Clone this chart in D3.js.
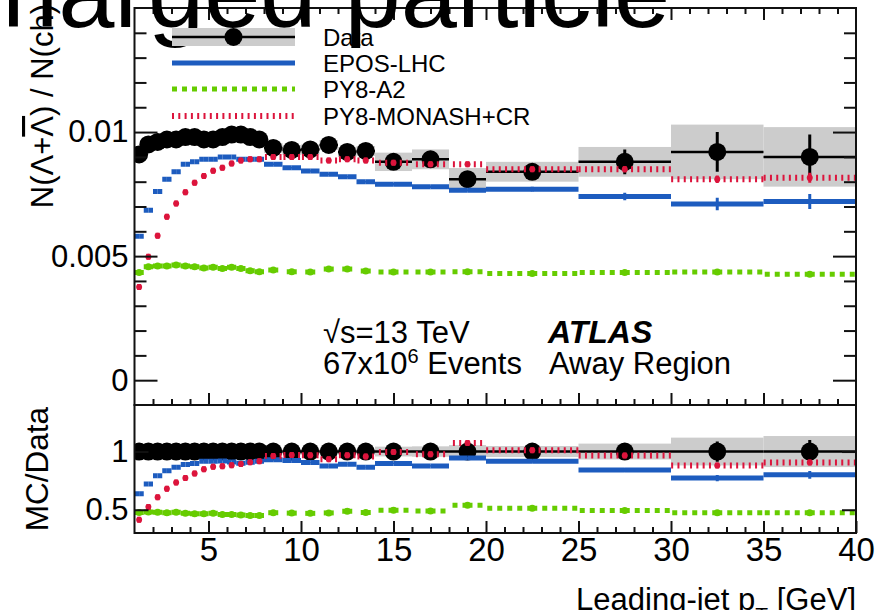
<!DOCTYPE html>
<html>
<head>
<meta charset="utf-8">
<script src="https://cdn.jsdelivr.net/npm/d3@7"></script>
<style>
  html, body { margin: 0; padding: 0; background: #fff; overflow: hidden; }
  svg { display: block; font-family: 'Liberation Sans', Arial, Helvetica, sans-serif; }
</style>
</head>
<body>
<div id="chart"></div>
<script>
// bin edges in leading-jet pT [GeV]
const binEdges = [1, 1.5, 2, 2.5, 3, 3.5, 4, 4.5, 5, 5.5, 6, 6.5, 7, 7.5, 8,
    9, 10, 11, 12, 13, 14, 16, 18, 20, 25, 30, 35, 40];

// data: N(Lambda+antiLambda)/N(ch)
const dataVal = [0.0091, 0.0095, 0.0096, 0.0097, 0.0097, 0.0098, 0.0098, 0.0097, 0.0097, 0.0098, 0.0099, 0.0099, 0.0098, 0.0097,
    0.00936, 0.00928, 0.0093, 0.00948, 0.0092, 0.00924,
    0.0088, 0.0089, 0.0081,
    0.0084, 0.0088, 0.0092, 0.0090];
const dataStat = [0.00005, 0.00005, 0.00005, 0.00005, 0.00005, 0.00005, 0.00005, 0.00005, 0.00005, 0.00005, 0.00005, 0.00005, 0.00005, 0.00005,
    0.0001, 0.0001, 0.0001, 0.0001, 0.0001, 0.0001,
    0.00015, 0.00015, 0.00015,
    0.0002, 0.0005, 0.0008, 0.0009];
const dataSyst = [0.00015, 0.00015, 0.00015, 0.00015, 0.00015, 0.00015, 0.00015, 0.00015, 0.00015, 0.00015, 0.00015, 0.00015, 0.00015, 0.00015,
    0.0002, 0.0002, 0.0002, 0.0002, 0.0002, 0.0002,
    0.00037, 0.0004, 0.00045,
    0.0004, 0.0006, 0.0011, 0.0012];

// models
const eposVal = [0.0058, 0.00685, 0.0076, 0.0081, 0.0084, 0.0087, 0.0088, 0.0089, 0.0089, 0.0090, 0.0090, 0.0089, 0.0089, 0.0089,
    0.0087, 0.00856, 0.00843, 0.0083, 0.0082, 0.0080,
    0.0079, 0.0078, 0.00765,
    0.0077, 0.0074, 0.0071, 0.0072];
const eposStat = [0, 0, 0, 0, 0, 0, 0, 0, 0, 0, 0, 0, 0, 0,
    0.00003, 0.00003, 0.00003, 0.00003, 0.00003, 0.00003,
    0.00005, 0.00005, 0.00005,
    0.0001, 0.00015, 0.00025, 0.0003];
const a2Val = [0.00434, 0.00457, 0.0046, 0.0046, 0.00464, 0.0046, 0.00457, 0.00452, 0.00455, 0.0045, 0.00455, 0.0045, 0.00441, 0.00437,
    0.00444, 0.00437, 0.00436, 0.00448, 0.00448, 0.0044,
    0.00436, 0.00436, 0.00437,
    0.0043, 0.00434, 0.00436, 0.00427];
const a2Stat = [0, 0, 0, 0, 0, 0, 0, 0, 0, 0, 0, 0, 0, 0,
    0.00002, 0.00002, 0.00002, 0.00002, 0.00002, 0.00002,
    0.00003, 0.00003, 0.00003,
    0.00005, 0.00007, 0.0001, 0.0001];
const monashVal = [0.00376, 0.00497, 0.00582, 0.00659, 0.00712, 0.00757, 0.00796, 0.00823, 0.00844, 0.00856, 0.00873, 0.00885, 0.0089, 0.0089,
    0.0090, 0.0090, 0.0090, 0.00885, 0.0089, 0.00885,
    0.00876, 0.0087, 0.0087,
    0.0085, 0.0085, 0.0081, 0.00816];
const monashStat = [0, 0, 0, 0, 0, 0, 0, 0, 0, 0, 0, 0, 0, 0,
    0.00003, 0.00003, 0.00003, 0.00003, 0.00003, 0.00003,
    0.00005, 0.00005, 0.00005,
    0.0001, 0.00012, 0.00015, 0.0002];

const xMajor = [5, 10, 15, 20, 25, 30, 35, 40];
const yTopMajor = [0, 0.005, 0.01];
const yTopLabels = ['0', '0.005', '0.01'];
const yRatioMajor = [0.5, 1];
const yRatioLabels = ['0.5', '1'];

const width = 885, height = 610;
const svg = d3.select('#chart').append('svg')
    .attr('width', width)
    .attr('height', height);

// panel geometry
const left = 134.5, right = 856;
const topY = 8, midY = 405, botY = 533;

const x = d3.scaleLinear().domain([1, 40]).range([left, right]);
const yTop = d3.scaleLinear().domain([-0.001, 0.015]).range([midY, topY]);
const yRat = d3.scaleLinear().domain([0.3, 1.4]).range([botY, midY]);

const bins = dataVal.map((v, i) => ({
    lo: binEdges[i], hi: binEdges[i + 1], c: (binEdges[i] + binEdges[i + 1]) / 2,
    data: v, stat: dataStat[i], syst: dataSyst[i]
}));

const models = [
    { name: 'EPOS-LHC', vals: eposVal, errs: eposStat, color: '#1d5cbf', width: 5, dash: null, dot: 0 },
    { name: 'PY8-A2', vals: a2Val, errs: a2Stat, color: '#66cc00', width: 5, dash: '5,5', dot: 3.5 },
    { name: 'PY8-MONASH+CR', vals: monashVal, errs: monashStat, color: '#dc143c', width: 6, dash: '2,4.3', dot: 3 }
];

const defs = svg.append('defs');
defs.append('clipPath').attr('id', 'clipTop').append('rect')
    .attr('x', left).attr('y', topY).attr('width', right - left).attr('height', midY - topY);
defs.append('clipPath').attr('id', 'clipRat').append('rect')
    .attr('x', left).attr('y', midY).attr('width', right - left).attr('height', botY - midY);

function drawPanel(clipId, y, ratio) {
    const g = svg.append('g').attr('clip-path', `url(#${clipId})`);
    const norm = d => ratio ? d.data : 1;

    // systematic band
    g.selectAll('rect.band').data(bins).enter().append('rect')
        .attr('class', 'band')
        .attr('x', d => x(d.lo))
        .attr('width', d => x(d.hi) - x(d.lo))
        .attr('y', d => y((d.data + d.syst) / norm(d)))
        .attr('height', d => y((d.data - d.syst) / norm(d)) - y((d.data + d.syst) / norm(d)))
        .attr('fill', '#cccccc');

    // data points
    const dg = g.append('g');
    dg.selectAll('line.xerr').data(bins).enter().append('line')
        .attr('x1', d => x(d.lo)).attr('x2', d => x(d.hi))
        .attr('y1', d => y(d.data / norm(d))).attr('y2', d => y(d.data / norm(d)))
        .attr('stroke', '#000').attr('stroke-width', 2.5);
    dg.selectAll('line.yerr').data(bins).enter().append('line')
        .attr('x1', d => x(d.c)).attr('x2', d => x(d.c))
        .attr('y1', d => y((d.data - d.stat) / norm(d))).attr('y2', d => y((d.data + d.stat) / norm(d)))
        .attr('stroke', '#000').attr('stroke-width', 3);
    dg.selectAll('circle').data(bins).enter().append('circle')
        .attr('cx', d => x(d.c)).attr('cy', d => y(d.data / norm(d)))
        .attr('r', 9).attr('fill', '#000');

    // models
    models.forEach(m => {
        const mg = g.append('g');
        const pts = bins.map((b, i) => ({ b, v: m.vals[i] / norm(b), e: m.errs[i] / norm(b) }));
        ['lo', 'hi'].forEach(side => {
            mg.selectAll(`line.${side}`).data(pts).enter().append('line')
                .attr('x1', d => x(d.b.c)).attr('x2', d => x(d.b[side]))
                .attr('y1', d => y(d.v)).attr('y2', d => y(d.v))
                .attr('stroke', m.color).attr('stroke-width', m.width)
                .attr('stroke-dasharray', m.dash);
        });
        mg.selectAll('line.err').data(pts.filter(d => d.e > 0)).enter().append('line')
            .attr('x1', d => x(d.b.c)).attr('x2', d => x(d.b.c))
            .attr('y1', d => y(d.v - d.e)).attr('y2', d => y(d.v + d.e))
            .attr('stroke', m.color).attr('stroke-width', 3);
        if (m.dot) {
            mg.selectAll('circle').data(pts).enter().append('circle')
                .attr('cx', d => x(d.b.c)).attr('cy', d => y(d.v))
                .attr('r', m.dot).attr('fill', m.color);
        }
    });
}

drawPanel('clipTop', yTop, false);
drawPanel('clipRat', yRat, true);

// frames
const axisColor = '#111';
svg.append('rect').attr('x', left).attr('y', topY).attr('width', right - left).attr('height', midY - topY)
    .attr('fill', 'none').attr('stroke', axisColor).attr('stroke-width', 2);
svg.append('rect').attr('x', left).attr('y', midY).attr('width', right - left).attr('height', botY - midY)
    .attr('fill', 'none').attr('stroke', axisColor).attr('stroke-width', 2);

function ticks(axisFn, scale, values, size, pos, label, fmt, pad, fontSize) {
    const a = axisFn(scale).tickValues(values).tickSize(-size).tickPadding(pad)
        .tickFormat(label ? fmt : '');
    const g = svg.append('g').attr('transform', pos).call(a);
    g.select('.domain').remove();
    g.selectAll('line').attr('stroke', axisColor).attr('stroke-width', 2);
    g.selectAll('text').attr('fill', '#000').style('font-size', fontSize + 'px')
        .style('font-family', "'Liberation Sans', Arial, Helvetica, sans-serif");
    return g;
}

const xMinor = d3.range(2, 40).filter(v => v % 5 !== 0);
const yTopMinor = d3.range(1, 15).map(v => v / 1000).filter(v => Math.abs(v * 1000 % 5) > 1e-6);

// upper panel ticks
ticks(d3.axisBottom, x, xMajor.slice(0, -1), 12, `translate(0,${midY})`, false);
ticks(d3.axisBottom, x, xMinor, 6, `translate(0,${midY})`, false);
ticks(d3.axisTop, x, xMajor.slice(0, -1), 12, `translate(0,${topY})`, false);
ticks(d3.axisTop, x, xMinor, 6, `translate(0,${topY})`, false);
ticks(d3.axisLeft, yTop, yTopMajor, 23, `translate(${left},0)`, true,
    d => yTopLabels[yTopMajor.indexOf(d)], 6, 31);
ticks(d3.axisLeft, yTop, yTopMinor, 12, `translate(${left},0)`, false);
ticks(d3.axisRight, yTop, yTopMajor, 23, `translate(${right},0)`, false);
ticks(d3.axisRight, yTop, yTopMinor, 12, `translate(${right},0)`, false);

// ratio panel ticks
ticks(d3.axisBottom, x, xMajor, 12, `translate(0,${botY})`, true, d => d, 4, 33)
    .selectAll('text').attr('dy', '0.72em');
ticks(d3.axisBottom, x, xMinor, 6, `translate(0,${botY})`, false);
ticks(d3.axisLeft, yRat, yRatioMajor, 14, `translate(${left},0)`, true,
    d => yRatioLabels[yRatioMajor.indexOf(d)], 6, 31);
ticks(d3.axisRight, yRat, yRatioMajor, 14, `translate(${right},0)`, false);

// axis titles
const ytitle = svg.append('text')
    .attr('transform', 'translate(53,4) rotate(-90)')
    .attr('text-anchor', 'end')
    .style('font-size', '31px');
ytitle.append('tspan').text('N(Λ+');
ytitle.append('tspan').style('text-decoration', 'overline').text('Λ');
ytitle.append('tspan').text(') / N(ch)');

svg.append('text')
    .attr('transform', 'translate(48,469) rotate(-90)')
    .attr('text-anchor', 'middle')
    .style('font-size', '31.5px')
    .text('MC/Data');

const xtitle = svg.append('text')
    .attr('x', right).attr('y', 610)
    .attr('text-anchor', 'end')
    .style('font-size', '31px');
xtitle.append('tspan').text('Leading-jet p');
xtitle.append('tspan').attr('baseline-shift', 'sub').style('font-size', '21px').text('T');
xtitle.append('tspan').text(' [GeV]');

// big overlapping title, cut at the top
svg.append('text').attr('x', 2).attr('y', 27)
    .style('font-size', '101px')
    .text('harged particle');

// legend
const legX0 = 172, legX1 = 295, legTx = 323;
const legRows = [37, 63, 89, 116];
const lg = svg.append('g');
lg.append('rect').attr('x', legX0).attr('y', legRows[0] - 9).attr('width', legX1 - legX0).attr('height', 18)
    .attr('fill', '#cccccc');
lg.append('line').attr('x1', legX0).attr('x2', legX1).attr('y1', legRows[0]).attr('y2', legRows[0])
    .attr('stroke', '#000').attr('stroke-width', 2.5);
lg.append('circle').attr('cx', (legX0 + legX1) / 2).attr('cy', legRows[0]).attr('r', 9).attr('fill', '#000');
models.forEach((m, i) => {
    lg.append('line').attr('x1', legX0).attr('x2', legX1)
        .attr('y1', legRows[i + 1]).attr('y2', legRows[i + 1])
        .attr('stroke', m.color).attr('stroke-width', m.width)
        .attr('stroke-dasharray', m.dash);
});
['Data'].concat(models.map(m => m.name)).forEach((t, i) => {
    lg.append('text').attr('x', legTx).attr('y', legRows[i] + 8.5)
        .style('font-size', '24px').text(t);
});

// labels in plot
svg.append('text').attr('x', 323).attr('y', 343).style('font-size', '31px').text('√s=13 TeV');
svg.append('text').attr('x', 548).attr('y', 343).style('font-size', '32px')
    .style('font-weight', 'bold').style('font-style', 'italic').text('ATLAS');
const ev = svg.append('text').attr('x', 323).attr('y', 374).style('font-size', '31px');
ev.append('tspan').text('67x10');
ev.append('tspan').attr('baseline-shift', 'super').style('font-size', '20px').text('6');
ev.append('tspan').text(' Events');
svg.append('text').attr('x', 549).attr('y', 374).style('font-size', '31px').text('Away Region');
</script>
</body>
</html>
